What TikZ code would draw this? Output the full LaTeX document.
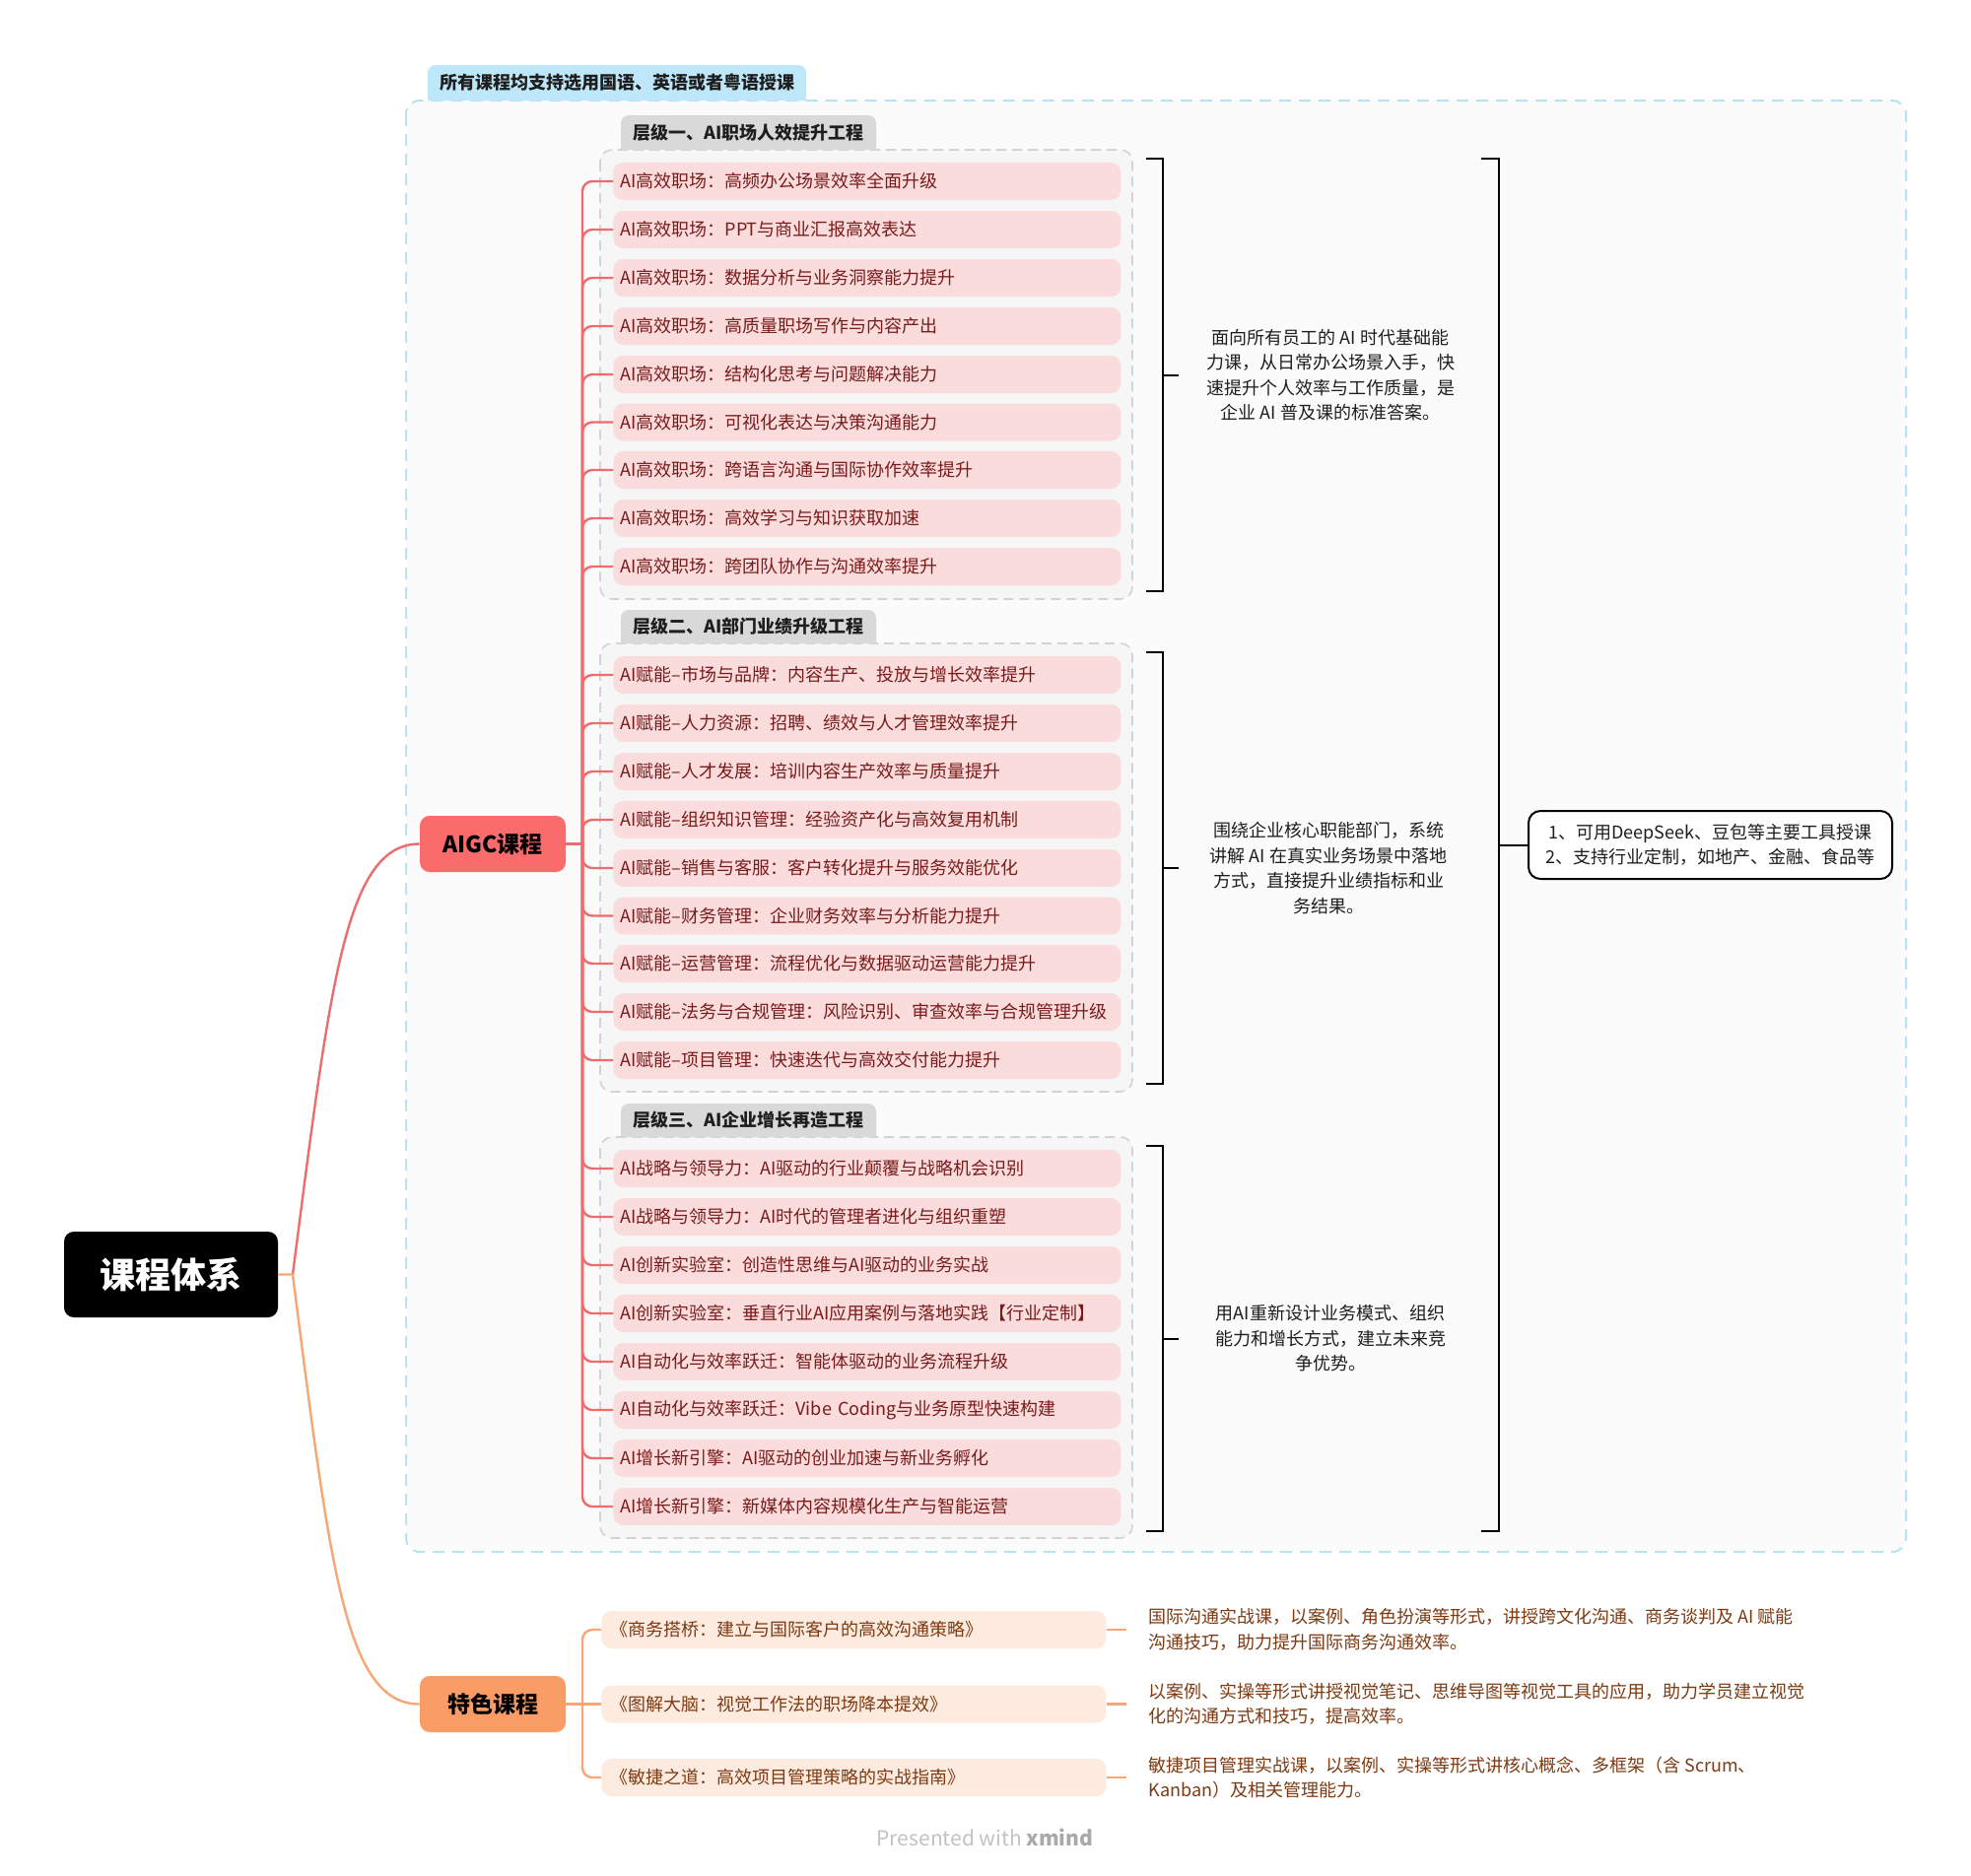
\documentclass[tikz,border=0pt]{standalone}
\usepackage{fontspec}
\setmainfont{Noto Sans CJK SC}
\usetikzlibrary{calc}
\definecolor{outerfill}{HTML}{FBFBFB}
\definecolor{outerborder}{HTML}{B9E2F3}
\definecolor{toplabelfill}{HTML}{BEE7FA}
\definecolor{lvlabelfill}{HTML}{D9D9D9}
\definecolor{lvboxfill}{HTML}{F6F6F6}
\definecolor{lvboxborder}{HTML}{D3D3D3}
\definecolor{rowfill}{HTML}{FADCDC}
\definecolor{rowtext}{HTML}{7A1B1B}
\definecolor{redline}{HTML}{F06B6B}
\definecolor{aigcfill}{HTML}{FA6B6B}
\definecolor{orangefill}{HTML}{FA9C66}
\definecolor{orangeline}{HTML}{F8A673}
\definecolor{srowfill}{HTML}{FDEBE0}
\definecolor{stext}{HTML}{7D3A12}
\definecolor{darktext}{HTML}{1E1E1E}
\definecolor{xmgray}{HTML}{C2C2C2}
\definecolor{xmdark}{HTML}{A9A9A9}
\newcommand\arowfont{\fontsize{9}{11}\selectfont}
\begin{document}
\begin{tikzpicture}[x=0.5pt,y=-0.5pt,
  arow/.style={anchor=west, fill=rowfill, rounded corners=5pt, minimum height=19pt, text width=250.5pt, inner xsep=3.5pt, inner ysep=0pt, align=left, text=rowtext, font=\arowfont},
  srow/.style={anchor=west, fill=srowfill, rounded corners=5pt, minimum height=19pt, text width=247pt, inner xsep=4.5pt, inner ysep=0pt, align=left, text=stext, font=\arowfont},
  lvlabel/.style={font=\bfseries\fontsize{9}{11}\selectfont, text=darktext, inner sep=0pt},
  lvbox/.style={draw=lvboxborder, fill=lvboxfill, line width=0.8pt, dash pattern=on 5pt off 3pt, rounded corners=6pt},
  bracketline/.style={draw=black, line width=1pt},
  desc/.style={align=center, font=\fontsize{9}{12.75}\selectfont, text=darktext, inner sep=0pt},
  sdesc/.style={anchor=west, align=left, font=\fontsize{9}{12.75}\selectfont, text=stext, inner sep=0pt},
  redc/.style={draw=redline, line width=1.2pt},
  orangec/.style={draw=orangeline, line width=1.2pt},
]
\useasboundingbox (0,0) rectangle (2000,1903);
\fill[white] (0,0) rectangle (2000,1903);

% outer dashed region
\draw[draw=outerborder, fill=outerfill, line width=1pt, dash pattern=on 6pt off 4pt, rounded corners=7pt] (412,102) rectangle (1934,1575);
\fill[toplabelfill] (434,102) [rounded corners=4pt] -- (434,66) -- (818,66) [sharp corners] -- (818,102) -- cycle;
\node[lvlabel] (toplabel) at (626,84) {所有课程均支持选用国语、英语或者粤语授课};

% level boxes
\draw[lvbox] (609,152) rectangle (1149,608);
\draw[lvbox] (609,653) rectangle (1149,1108);
\draw[lvbox] (609,1154) rectangle (1149,1561);

\fill[lvlabelfill] (630,152) [rounded corners=4pt] -- (630,117) -- (889,117) [sharp corners] -- (889,152) -- cycle;
\node[lvlabel] (lv1) at (759.5,135) {层级一、AI职场人效提升工程};
\fill[lvlabelfill] (630,653) [rounded corners=4pt] -- (630,619) -- (889,619) [sharp corners] -- (889,653) -- cycle;
\node[lvlabel] (lv2) at (759.5,636) {层级二、AI部门业绩升级工程};
\fill[lvlabelfill] (630,1154) [rounded corners=4pt] -- (630,1120) -- (889,1120) [sharp corners] -- (889,1154) -- cycle;
\node[lvlabel] (lv3) at (759.5,1137) {层级三、AI企业增长再造工程};

% level 1 rows
\node[arow] (a1) at (622,184) {AI高效职场：高频办公场景效率全面升级};
\node[arow] (a2) at (622,233) {AI高效职场：PPT与商业汇报高效表达};
\node[arow] (a3) at (622,282) {AI高效职场：数据分析与业务洞察能力提升};
\node[arow] (a4) at (622,331) {AI高效职场：高质量职场写作与内容产出};
\node[arow] (a5) at (622,380) {AI高效职场：结构化思考与问题解决能力};
\node[arow] (a6) at (622,428.5) {AI高效职场：可视化表达与决策沟通能力};
\node[arow] (a7) at (622,477) {AI高效职场：跨语言沟通与国际协作效率提升};
\node[arow] (a8) at (622,526) {AI高效职场：高效学习与知识获取加速};
\node[arow] (a9) at (622,575) {AI高效职场：跨团队协作与沟通效率提升};
% level 2 rows
\node[arow] (a10) at (622,685) {AI赋能–市场与品牌：内容生产、投放与增长效率提升};
\node[arow] (a11) at (622,734) {AI赋能–人力资源：招聘、绩效与人才管理效率提升};
\node[arow] (a12) at (622,783) {AI赋能–人才发展：培训内容生产效率与质量提升};
\node[arow] (a13) at (622,832) {AI赋能–组织知识管理：经验资产化与高效复用机制};
\node[arow] (a14) at (622,881) {AI赋能–销售与客服：客户转化提升与服务效能优化};
\node[arow] (a15) at (622,929.5) {AI赋能–财务管理：企业财务效率与分析能力提升};
\node[arow] (a16) at (622,978) {AI赋能–运营管理：流程优化与数据驱动运营能力提升};
\node[arow] (a17) at (622,1027) {AI赋能–法务与合规管理：风险识别、审查效率与合规管理升级};
\node[arow] (a18) at (622,1076) {AI赋能–项目管理：快速迭代与高效交付能力提升};
% level 3 rows
\node[arow] (a19) at (622,1186) {AI战略与领导力：AI驱动的行业颠覆与战略机会识别};
\node[arow] (a20) at (622,1235) {AI战略与领导力：AI时代的管理者进化与组织重塑};
\node[arow] (a21) at (622,1284) {AI创新实验室：创造性思维与AI驱动的业务实战};
\node[arow] (a22) at (622,1333) {AI创新实验室：垂直行业AI应用案例与落地实践【行业定制】};
\node[arow] (a23) at (622,1382) {AI自动化与效率跃迁：智能体驱动的业务流程升级};
\node[arow] (a24) at (622,1431) {AI自动化与效率跃迁：Vibe Coding与业务原型快速构建};
\node[arow] (a25) at (622,1480) {AI增长新引擎：AI驱动的创业加速与新业务孵化};
\node[arow] (a26) at (622,1529) {AI增长新引擎：新媒体内容规模化生产与智能运营};

% main nodes
\node[fill=black, text=white, rounded corners=5pt, minimum width=108.5pt, minimum height=43.5pt, inner sep=0pt, font=\bfseries\fontsize{18}{20}\selectfont] (root) at (173.5,1293.5) {课程体系};
\node[fill=aigcfill, text=black, rounded corners=5pt, minimum width=74pt, minimum height=28.5pt, inner sep=0pt, font=\bfseries\fontsize{11.5}{13}\selectfont] (aigc) at (500,856.5) {AIGC课程};
\node[fill=orangefill, text=black, rounded corners=5pt, minimum width=74pt, minimum height=28.5pt, inner sep=0pt, font=\bfseries\fontsize{11.5}{13}\selectfont] (spec) at (500,1729.5) {特色课程};

% root connectors
\coordinate (rootout) at (297,1293.5);
\draw[redc] (rootout) .. controls (335,1000) and (350,856.5) .. (aigc.west);
\draw[orangec] (root.east) -- (rootout) .. controls (335,1590) and (350,1729.5) .. (spec.west);

% AIGC spine
\coordinate (aspine) at (591,856.5);
\draw[redc] (aigc.east) -- (aspine);
\foreach \i in {1,...,26} \draw[redc, rounded corners=5pt] (aspine) |- (a\i.west);

% brackets
\draw[bracketline] (1163,161) -- (1180,161) -- (1180,600) -- (1163,600);
\coordinate (b1) at (1180,380.5);
\draw[bracketline] (b1) -- ++(16,0);
\draw[bracketline] (1163,662) -- (1180,662) -- (1180,1100) -- (1163,1100);
\coordinate (b2) at (1180,881);
\draw[bracketline] (b2) -- ++(16,0);
\draw[bracketline] (1163,1163) -- (1180,1163) -- (1180,1554) -- (1163,1554);
\coordinate (b3) at (1180,1358.5);
\draw[bracketline] (b3) -- ++(16,0);
\draw[bracketline] (1503,161) -- (1521,161) -- (1521,1554) -- (1503,1554);
\coordinate (bigtick) at (1521,857.5);

\node[desc] (d1) at (1350,380.5) {面向所有员工的 AI 时代基础能\\力课，从日常办公场景入手，快\\速提升个人效率与工作质量，是\\企业 AI 普及课的标准答案。};
\node[desc] (d2) at (1348,881) {围绕企业核心职能部门，系统\\讲解 AI 在真实业务场景中落地\\方式，直接提升业绩指标和业\\务结果。};
\node[desc] (d3) at (1350,1358.5) {用AI重新设计业务模式、组织\\能力和增长方式，建立未来竞\\争优势。};

\node[draw=black, line width=1pt, fill=white, rounded corners=6pt, minimum width=184.5pt, minimum height=34.5pt, inner sep=0pt, align=center, font=\fontsize{9}{12.75}\selectfont, text=darktext] (note) at (1735.5,857.5) {1、可用DeepSeek、豆包等主要工具授课\\2、支持行业定制，如地产、金融、食品等};
\draw[bracketline] (bigtick) -- (note.west);

% special rows
\node[srow] (s1) at (610,1654) {《商务搭桥：建立与国际客户的高效沟通策略》};
\node[srow] (s2) at (610,1729.5) {《图解大脑：视觉工作法的职场降本提效》};
\node[srow] (s3) at (610,1804) {《敏捷之道：高效项目管理策略的实战指南》};
\coordinate (sspine) at (591,1729.5);
\draw[orangec] (spec.east) -- (sspine);
\draw[orangec, rounded corners=5pt] (sspine) |- (s1.west);
\draw[orangec] (sspine) -- (s2.west);
\draw[orangec, rounded corners=5pt] (sspine) |- (s3.west);

\node[sdesc] (e1) at (1165,1654) {国际沟通实战课，以案例、角色扮演等形式，讲授跨文化沟通、商务谈判及 AI 赋能\\沟通技巧，助力提升国际商务沟通效率。};
\node[sdesc] (e2) at (1165,1729.5) {以案例、实操等形式讲授视觉笔记、思维导图等视觉工具的应用，助力学员建立视觉\\化的沟通方式和技巧，提高效率。};
\node[sdesc] (e3) at (1165,1804) {敏捷项目管理实战课，以案例、实操等形式讲核心概念、多框架（含 Scrum、\\Kanban）及相关管理能力。};
\draw[orangec, shorten >=11pt] (s1.east) -- (e1.west);
\draw[orangec, shorten >=11pt] (s2.east) -- (e2.west);
\draw[orangec, shorten >=11pt] (s3.east) -- (e3.west);

\node[font=\fontsize{10.5}{12}\selectfont, text=xmgray, inner sep=0pt] (pw) at (999.5,1865) {Presented with \textcolor{xmdark}{\bfseries xmind}};
\end{tikzpicture}
\end{document}
